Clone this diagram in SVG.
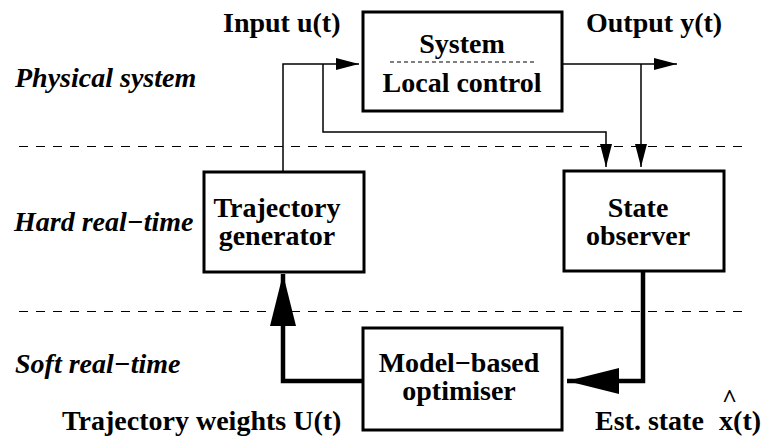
<svg xmlns="http://www.w3.org/2000/svg" width="781" height="440" viewBox="0 0 781 440" font-family="'Liberation Serif', 'DejaVu Serif', serif">
<style>
text{font-family:"Liberation Serif","DejaVu Serif",serif;font-weight:bold;font-size:28px;fill:#000}
.it{font-style:italic}
.c{text-anchor:middle}
.box{fill:#fff;stroke:#000;stroke-width:3}
.thin{fill:none;stroke:#000;stroke-width:1.5}
.thick{fill:none;stroke:#000;stroke-width:4.5}
.sep{fill:none;stroke:#000;stroke-width:1.2;stroke-dasharray:9 8}
</style>
<defs>
<marker id="a" markerUnits="userSpaceOnUse" viewBox="0 0 23 12" refX="23" refY="6" markerWidth="23" markerHeight="12" orient="auto">
<path d="M0,0 L23,6 L0,12 Z" fill="#000"/>
</marker>
<marker id="A" markerUnits="userSpaceOnUse" viewBox="0 0 52 26" refX="52" refY="13" markerWidth="52" markerHeight="26" orient="auto">
<path d="M0,0 L52,13 L0,26 Z" fill="#000"/>
</marker>
</defs>
<g id="layers">
<line class="sep" x1="19" y1="146.5" x2="748" y2="146.5"/>
<line class="sep" x1="19" y1="311.5" x2="748" y2="311.5"/>
<text class="it" x="15" y="87">Physical system</text>
<text class="it" x="14" y="231">Hard real−time</text>
<text class="it" x="15" y="373">Soft real−time</text>
</g>
<g id="connectors">
<path class="thin" d="M283,172 V64 H359" marker-end="url(#a)"/>
<path class="thin" d="M323,64 V132 H606 V167" marker-end="url(#a)"/>
<path class="thin" d="M562,64 H677" marker-end="url(#a)"/>
<path class="thin" d="M641,64 V167" marker-end="url(#a)"/>
<path class="thick" d="M643,271 V381 H567" marker-end="url(#A)"/>
<path class="thick" d="M363,381 H283 V274" marker-end="url(#A)"/>
</g>
<g id="system">
<rect class="box" x="363" y="12" width="199" height="99"/>
<text class="c" x="462" y="53">System</text>
<line x1="390" y1="62" x2="535" y2="62" stroke="#000" stroke-width="1" stroke-dasharray="4 3"/>
<text class="c" x="462" y="92">Local control</text>
</g>
<g id="trajectory-generator">
<rect class="box" x="204" y="172" width="160" height="100"/>
<text class="c" x="277" y="217">Trajectory</text>
<text class="c" x="277" y="245">generator</text>
</g>
<g id="state-observer">
<rect class="box" x="564" y="171" width="160" height="100"/>
<text class="c" x="638" y="217">State</text>
<text class="c" x="638" y="245">observer</text>
</g>
<g id="optimiser">
<rect class="box" x="363" y="328" width="199" height="102"/>
<text class="c" x="459" y="372">Model−based</text>
<text class="c" x="459" y="400">optimiser</text>
</g>
<g id="labels">
<text x="223" y="32">Input u(t)</text>
<text x="586" y="32">Output y(t)</text>
<text x="62" y="430">Trajectory weights U(t)</text>
<text x="595" y="430">Est. state</text>
<text x="719" y="430">x<tspan dx="-11" dy="-23" style="font-size:26px">^</tspan><tspan dx="-4" dy="23">(t)</tspan></text>
</g>
</svg>
